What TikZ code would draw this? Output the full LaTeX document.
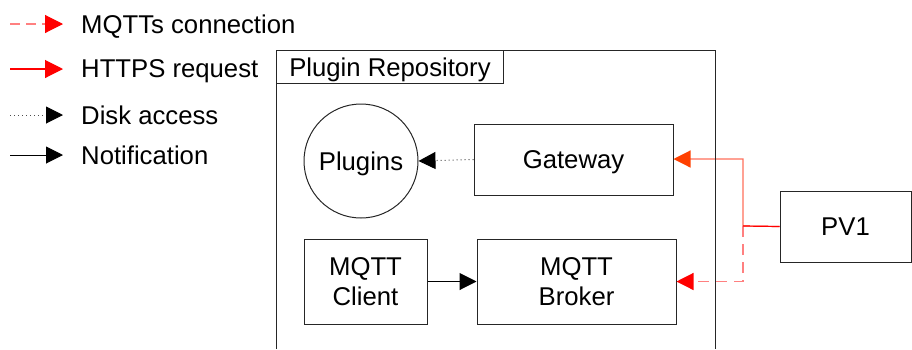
\documentclass[tikz,border=0pt]{standalone}
\usepackage{fontspec}
\setmainfont{Liberation Sans}
\usetikzlibrary{arrows.meta}
\definecolor{salmonline}{RGB}{255,128,128}
\definecolor{httpsline}{RGB}{255,110,90}
\definecolor{orangetip}{RGB}{255,64,0}
\begin{document}
\begin{tikzpicture}[x=1pt,y=-1pt,
  every node/.style={font=\fontsize{25.7}{29.5}\selectfont, inner sep=0pt},
  one/.style={text depth=0pt},
  box/.style={draw=black!85, line width=1pt, align=center},
  tip/.style={-{Triangle[length=17pt,width=17pt]}},
  mqtts/.style={tip, draw=salmonline, line width=1.2pt, dash pattern=on 11pt off 7pt, -{Triangle[length=17pt,width=17pt,fill=red,color=red]}},
  https/.style={draw=httpsline, line width=1.2pt, -{Triangle[length=17pt,width=17pt,fill=orangetip,color=orangetip]}},
  disk/.style={tip, draw=black!70, line width=1pt, dash pattern=on 1pt off 3pt, -{Triangle[length=17pt,width=17pt,fill=black,color=black]}},
  notif/.style={tip, draw=black, line width=1pt}
]
\useasboundingbox (0,0) rectangle (912,349);
% legend
\coordinate (l1a) at (10,24); \coordinate (l1b) at (63,24);
\coordinate (l2a) at (10,69); \coordinate (l2b) at (63,69);
\coordinate (l3a) at (10,115); \coordinate (l3b) at (63,115);
\coordinate (l4a) at (10,155); \coordinate (l4b) at (63,155);
\draw[salmonline, line width=1.1pt, dash pattern=on 10pt off 6pt, -{Triangle[length=18pt,width=18pt,fill=red,color=red]}] (l1a) -- (l1b);
\draw[red, line width=1.1pt, -{Triangle[length=18pt,width=18pt,fill=red,color=red]}] (l2a) -- (l2b);
\draw[disk] (l3a) -- (l3b);
\draw[notif] (l4a) -- (l4b);
\node[one, anchor=west] (t1) at (81,24) {MQTTs connection};
\node[one, anchor=west] (t2) at (81,69) {HTTPS request};
\node[one, anchor=west] (t3) at (81,115) {Disk access};
\node[one, anchor=west] (t4) at (81,155) {Notification};
% nodes
\node[box, one, circle, minimum size=114pt] (plugins) at (361,161) {Plugins};
\node[box, one, minimum width=199pt, minimum height=71pt] (gateway) at (573.5,159.5) {Gateway};
\node[box, minimum width=123pt, minimum height=85pt] (client) at (365.5,281.5) {MQTT\\Client};
\node[box, minimum width=199pt, minimum height=85pt] (broker) at (576.5,281.5) {MQTT\\Broker};
\node[box, one, minimum width=131pt, minimum height=71pt] (pv1) at (845.5,226.5) {PV1};
% connectors
\coordinate (j) at (743,226);
\draw[https] (pv1.west) -- (j) |- (gateway.east |- 0,159);
\draw[mqtts] (j) |- (broker.east);
\draw[red, line width=1.2pt] (pv1.west) -- (j);
\draw[disk] (gateway.west) -- (plugins.east);
\draw[notif] (client.east) -- (broker.west);
% container
\coordinate (c1) at (276,349);
\coordinate (c2) at (276,50);
\coordinate (c3) at (715,50);
\coordinate (c4) at (715,349);
\draw[black!85, line width=1pt] (c1) -- (c2) -- (c3) -- (c4);
\node[box, one, minimum width=227pt, minimum height=33pt, anchor=north west] (title) at (276,50) {Plugin Repository};
\end{tikzpicture}
\end{document}
